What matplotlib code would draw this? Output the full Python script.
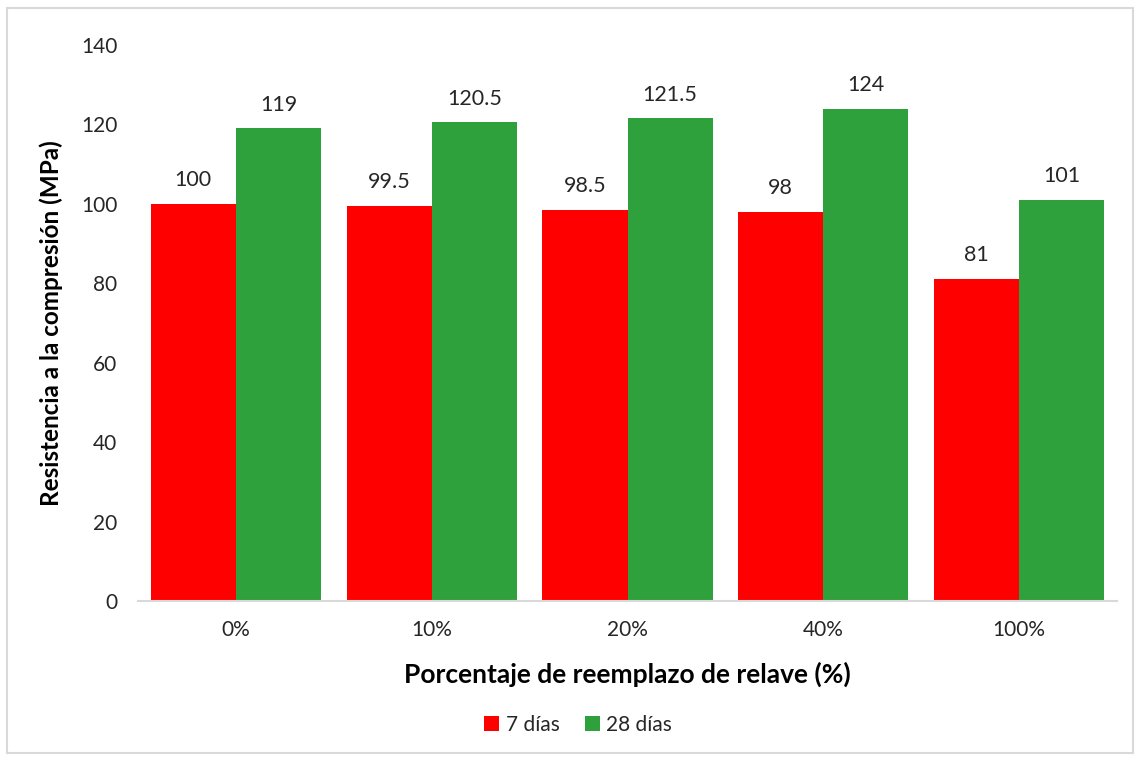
import matplotlib
matplotlib.use("Agg")
import matplotlib.pyplot as plt
from matplotlib.patches import Rectangle
import numpy as np

categories = ["0%", "10%", "20%", "40%", "100%"]
dias_7 = [100, 99.5, 98.5, 98, 81]
dias_28 = [119, 120.5, 121.5, 124, 101]
series_labels = ["7 días", "28 días"]
yticks = [0, 20, 40, 60, 80, 100, 120, 140]

RED = "#FF0000"
GREEN = "#2FA13C"
TEXT = "#262626"

plt.rcParams["font.family"] = ["Lato", "DejaVu Sans"]

fig = plt.figure(figsize=(11.41, 7.61), dpi=100)
W, H = 1141, 761
ax = fig.add_axes([138 / W, 1 - 601 / H, (1117 - 138) / W, (601 - 45) / H])

x = np.arange(len(categories))
bw = 0.435
b1 = ax.bar(x - bw / 2, dias_7, width=bw, color=RED, label=series_labels[0])
b2 = ax.bar(x + bw / 2, dias_28, width=bw, color=GREEN, label=series_labels[1])

def fmt(v):
    return f"{v:g}"

for bars, vals in ((b1, dias_7), (b2, dias_28)):
    for rect, v in zip(bars, vals):
        ax.annotate(fmt(v), (rect.get_x() + rect.get_width() / 2, v),
                    xytext=(0, 10), textcoords="offset points",
                    ha="center", va="bottom", fontsize=15.5, color=TEXT)

ax.set_xlim(-0.5, len(categories) - 0.5)
ax.set_ylim(0, 140)
ax.set_yticks(yticks)
ax.set_xticks(x)
ax.set_xticklabels(categories)
ax.tick_params(axis="both", length=0, labelsize=15, labelcolor=TEXT)
ax.tick_params(axis="y", pad=15)
ax.tick_params(axis="x", pad=14)

for s in ("top", "right", "left"):
    ax.spines[s].set_visible(False)
ax.spines["bottom"].set_color("#D9D9D9")
ax.spines["bottom"].set_linewidth(1.5)

ax.set_ylabel("Resistencia a la compresión (MPa)", fontsize=17.5, fontweight="bold",
              color="black", labelpad=13)
ax.set_xlabel("Porcentaje de reemplazo de relave (%)", fontsize=19, fontweight="bold",
              color="black", labelpad=15)

leg = fig.legend(handles=[b1, b2], labels=series_labels, loc="center",
                 bbox_to_anchor=(578 / W, 1 - 725 / H), ncol=2, frameon=False,
                 fontsize=15, handlelength=0.75, handleheight=0.75,
                 handletextpad=0.3, columnspacing=1.2)
for t in leg.get_texts():
    t.set_color(TEXT)

fig.patches.append(Rectangle((7 / W, 1 - 753 / H), (1133 - 7) / W, (753 - 8) / H,
                             transform=fig.transFigure, fill=False,
                             edgecolor="#D9D9D9", linewidth=1.5))

fig.savefig("out.png", dpi=100, facecolor="white")
